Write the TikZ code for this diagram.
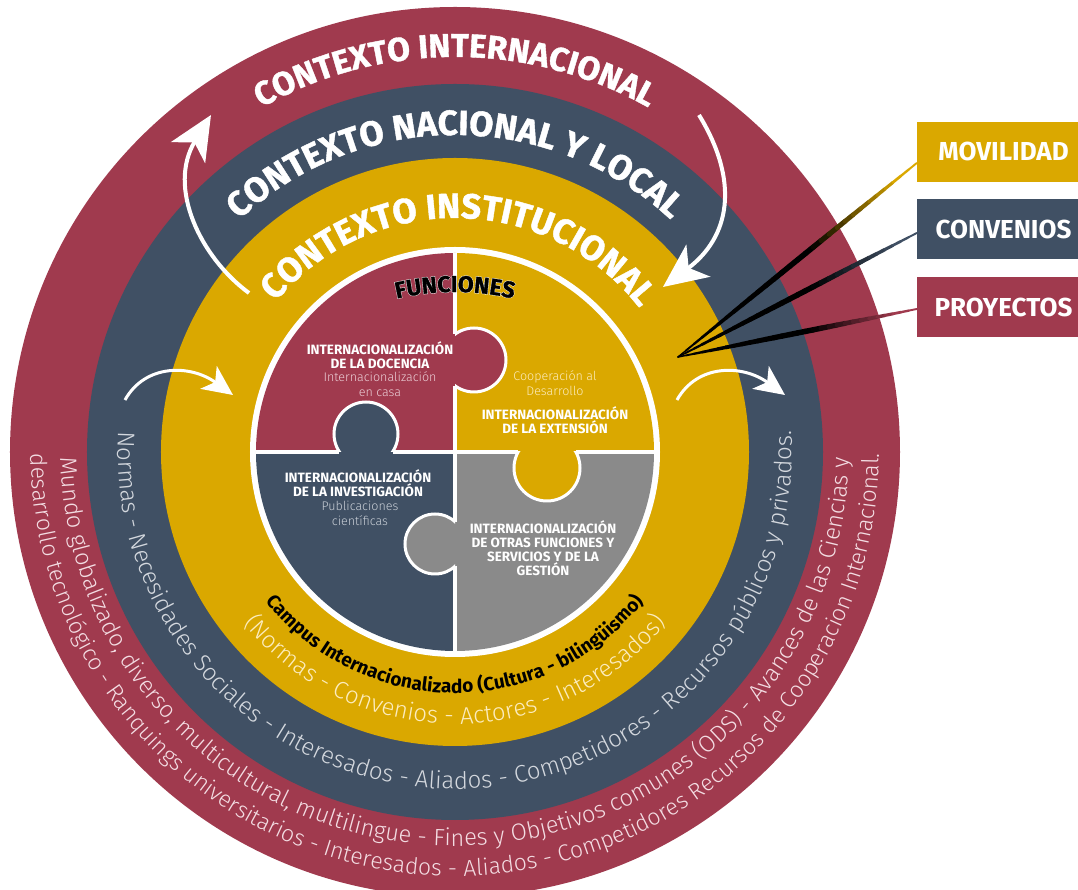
\documentclass[tikz,border=0pt]{standalone}
\usepackage{fontspec}
\setmainfont{Fira Sans}
\newfontfamily\heavyfont{Fira Sans}[BoldFeatures={FakeBold=1.2}]
\newfontfamily\outlinefont{Fira Sans}[BoldFeatures={FakeBold=5}]
\IfFontExistsTF{FiraSans-Light.otf}{\newfontfamily\lightfont{FiraSans-Light.otf}}{%
  \IfFontExistsTF{Fira Sans Light}{\newfontfamily\lightfont{Fira Sans Light}}{\newfontfamily\lightfont{Fira Sans}}}
\usetikzlibrary{decorations.text,arrows.meta,calc}
\definecolor{cred}{RGB}{160,58,78}
\definecolor{cblue}{RGB}{64,80,100}
\definecolor{cyel}{RGB}{218,168,0}
\definecolor{cgray}{RGB}{138,138,138}
\definecolor{tblue}{RGB}{212,216,222}
\definecolor{tred}{RGB}{243,220,226}
\definecolor{tyel}{RGB}{252,236,190}
\definecolor{subred}{RGB}{236,206,214}
\definecolor{subblue}{RGB}{200,206,214}
\tikzset{
  bigarrow/.style={draw=white, line width=4pt, -{Stealth[length=44pt,width=40pt,inset=12pt]}},
  smallarrow/.style={draw=white, line width=3pt, -{Stealth[length=30pt,width=28pt,inset=8pt]}},
  sidebox/.style={minimum width=173pt, minimum height=60pt, inner sep=0pt, text=white, font=\fontsize{26}{28}\selectfont\bfseries},
  lab/.style={text=white, align=center, inner sep=0pt, font=\fontsize{13.5}{14}\selectfont\bfseries},
  sublab/.style={align=center, inner sep=0pt, font=\fontsize{12.5}{15}\selectfont\lightfont},
  sepline/.style={draw=white, line width=4pt},
  knobline/.style={draw=white, line width=3pt},
}
\begin{document}
\begin{tikzpicture}[x=1pt,y=1pt]
\useasboundingbox (-455,-438) rectangle (623,452);
% rings
\fill[cred] (0,0) circle (445);
\fill[cblue] (0,0) circle (368);
\fill[cyel] (0,0) circle (294);
\fill[white] (0,0) circle (205);
% headings
\path[decorate,decoration={text along path,text align=center,text color=white,
  text={|\fontsize{33}{36}\selectfont\heavyfont\bfseries|CONTEXTO INTERNACIONAL}}]
  (170:395) arc[start angle=170,end angle=10,radius=395];
\path[decorate,decoration={text along path,text align=center,text color=white,
  text={|\fontsize{35}{38}\selectfont\heavyfont\bfseries|CONTEXTO NACIONAL Y LOCAL}}]
  (170:317) arc[start angle=170,end angle=10,radius=317];
\path[decorate,decoration={text along path,text align=center,text color=white,
  text={|\fontsize{35}{36}\selectfont\heavyfont\bfseries|CONTEXTO INSTITUCIONAL}}]
  (169:234) arc[start angle=169,end angle=9,radius=234];
% bottom texts
\path[decorate,decoration={text along path,text align=center,text color=black,
  text={|\fontsize{19}{21}\selectfont\bfseries|Campus Internacionalizado (Cultura - bilingüismo)}}]
  (190:241) arc[start angle=190,end angle=350,radius=241];
\path[decorate,decoration={text along path,text align=center,text color=tyel,
  text={|\fontsize{24}{26}\selectfont\lightfont|(Normas - Convenios - Actores - Interesados)}}]
  (180:272) arc[start angle=180,end angle=360,radius=272];
\path[decorate,decoration={text along path,text align=center,text color=tblue,
  text={|\fontsize{24}{26}\selectfont\lightfont|Normas - Necesidades Sociales - Interesados - Aliados - Competidores - Recursos públicos y privados.}}]
  (150:337) arc[start angle=150,end angle=390,radius=337];
\path[decorate,decoration={text along path,text align=center,text color=tred,
  text={|\fontsize{23.6}{26}\selectfont\lightfont|Mundo globalizado, diverso, multicultural, multilingue - Fines y Objetivos comunes (ODS) - Avances de las Ciencias y}}]
  (150:394) arc[start angle=150,end angle=390,radius=394];
\path[decorate,decoration={text along path,text align=center,text color=tred,
  text={|\fontsize{23}{26}\selectfont\lightfont|desarrollo tecnológico - Ranquings universitarios - Interesados - Aliados - Competidores Recursos de Cooperacion Internacional.}}]
  (150:424) arc[start angle=150,end angle=390,radius=424];
% puzzle
\begin{scope}
  \clip (0,0) circle (199);
  \fill[cred] (-200,0) rectangle (0,200);
  \fill[cyel] (0,0) rectangle (200,200);
  \fill[cblue] (-200,-200) rectangle (0,0);
  \fill[cgray] (0,-200) rectangle (200,0);
  \draw[sepline] (0,200) -- (0,117.7);
  \draw[sepline] (0,66.3) -- (0,-69.6);
  \draw[sepline] (0,-114.4) -- (0,-200);
  \draw[sepline] (-200,0) -- (-115.5,0);
  \draw[sepline] (-62.5,0) -- (63.1,0);
  \draw[sepline] (120.9,0) -- (200,0);
  % knobs
  \fill[cred] (19,92) circle (32);
  \begin{scope}\clip (0,-250) rectangle (250,250); \draw[knobline] (19,92) circle (32); \end{scope}
  \fill[cblue] (-89,18) circle (32);
  \begin{scope}\clip (-250,0) rectangle (250,250); \draw[knobline] (-89,18) circle (32); \end{scope}
  \fill[cyel] (92,-16) circle (33);
  \begin{scope}\clip (-250,-250) rectangle (250,0); \draw[knobline] (92,-16) circle (33); \end{scope}
  \fill[cgray] (-20,-92) circle (30);
  \begin{scope}\clip (-250,-250) rectangle (0,250); \draw[knobline] (-20,-92) circle (30); \end{scope}
\end{scope}
% puzzle labels
\node[lab] (tlA) at (-75,96.5) {INTERNACIONALIZACIÓN\\DE LA DOCENCIA};
\node[sublab, text=subred] (tlB) at (-75,67.5) {Internacionalización\\en casa};
\node[sublab, text=tyel] (trA) at (100,69) {Cooperación al\\Desarrollo};
\node[lab] (trB) at (100,31.5) {INTERNACIONALIZACIÓN\\DE LA EXTENSIÓN};
\node[lab] (blA) at (-97,-31) {INTERNACIONALIZACIÓN\\DE LA INVESTIGACIÓN};
\node[sublab, text=subblue] (blB) at (-95,-61) {Publicaciones\\científicas};
\node[lab] (brA) at (88,-96) {INTERNACIONALIZACIÓN\\DE OTRAS FUNCIONES Y\\SERVICIOS Y DE LA\\GESTIÓN};
% FUNCIONES with white outline (emboldened white copy behind)
\path[decorate,decoration={text along path,text align=center,text color=white,
  text={|\fontsize{23}{26}\selectfont\outlinefont\bfseries|FUNCIONES}}]
  (-88.9,144.3) arc[start angle=110,end angle=70,radius=260];
\path[decorate,decoration={text along path,text align=center,text color=black,
  text={|\fontsize{23}{26}\selectfont\heavyfont\bfseries|FUNCIONES}}]
  (-88.9,144.3) arc[start angle=110,end angle=70,radius=260];
% arrows
\coordinate (la1) at (-206,159);
\coordinate (la2) at (-244,337);
\draw[bigarrow] (la1) .. controls (-255,195) and (-288,265) .. (la2);
\coordinate (ra1) at (244,337);
\coordinate (ra2) at (208,165);
\draw[bigarrow] (ra1) .. controls (285,270) and (275,215) .. (ra2);
\coordinate (sa1) at (-330,52);
\coordinate (sa2) at (-222,57);
\draw[smallarrow] (sa1) .. controls (-310,88) and (-265,88) .. (sa2);
\coordinate (sb1) at (222,52);
\coordinate (sb2) at (330,57);
\draw[smallarrow] (sb1) .. controls (242,88) and (287,88) .. (sb2);
% side boxes
\node[sidebox, fill=cyel] (mov) at (548.5,300) {MOVILIDAD};
\node[sidebox, fill=cblue] (con) at (548.5,223) {CONVENIOS};
\node[sidebox, fill=cred] (pro) at (548.5,145) {PROYECTOS};
\coordinate (conv) at (223,95);
\foreach \b/\c/\dy in {mov/cyel/-11, con/cblue/-4, pro/cred/-2}{
  \coordinate (endp) at ($(\b.west)+(0,\dy)$);
  \foreach \i in {0,...,29}{
    \pgfmathsetmacro\ta{\i/30}
    \pgfmathsetmacro\tb{(\i+1)/30}
    \pgfmathtruncatemacro\mix{min(100,max(0,(\ta-0.55)/0.35*100))}
    \pgfmathsetmacro\lw{1.5+4*sin(180*\ta)}
    \draw[line width=\lw pt, color=\c!\mix!black, line cap=round] ($(conv)!\ta!(endp)$) -- ($(conv)!\tb!(endp)$);
  }
}
\end{tikzpicture}
\end{document}
